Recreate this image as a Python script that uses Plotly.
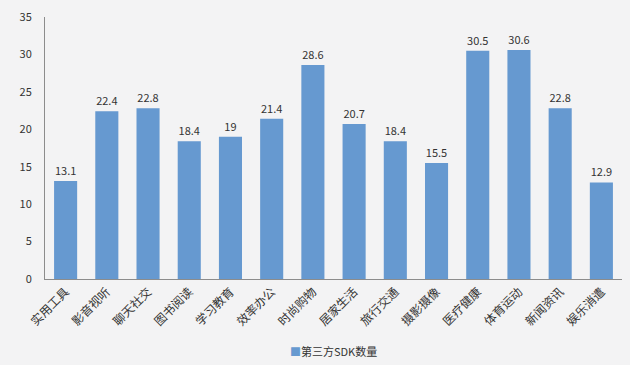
import plotly.graph_objects as go

categories = ["实用工具", "影音视听", "聊天社交", "图书阅读", "学习教育", "效率办公", "时尚购物",
              "居家生活", "旅行交通", "摄影摄像", "医疗健康", "体育运动", "新闻资讯", "娱乐消遣"]
values = [13.1, 22.4, 22.8, 18.4, 19, 21.4, 28.6, 20.7, 18.4, 15.5, 30.5, 30.6, 22.8, 12.9]
series_name = "第三方SDK数量"
y_ticks = [0, 5, 10, 15, 20, 25, 30, 35]

font_family = "Noto Sans CJK SC, Microsoft YaHei, sans-serif"
bar_color = "#6699D0"

fig = go.Figure()
fig.add_trace(go.Bar(
    x=categories, y=values, name=series_name,
    marker=dict(color=bar_color, line=dict(width=0)),
    text=[str(v) for v in values], textposition="outside",
    textfont=dict(size=11, color="#333333", family=font_family),
    cliponaxis=False, showlegend=False,
))

fig.add_annotation(
    xref="paper", yref="paper", x=0.5, y=-0.235, xanchor="center", yanchor="top",
    text=f"<span style='color:{bar_color}'>■</span>{series_name}",
    showarrow=False, font=dict(size=11, color="#333333", family=font_family),
)

fig.update_layout(
    width=630, height=365,
    margin=dict(l=45, r=8, t=8, b=86),
    paper_bgcolor="#f3f3f4", plot_bgcolor="rgba(0,0,0,0)",
    bargap=0.44,
    font=dict(family=font_family, color="#333333"),
)
fig.update_xaxes(
    tickangle=-45, tickfont=dict(size=12, color="#333333", family=font_family),
    showline=True, linecolor="#8c8c8c", linewidth=1, ticks="",
    showgrid=False,
)
fig.update_yaxes(
    range=[0, 35], tickmode="array", tickvals=y_ticks, ticktext=[str(t) for t in y_ticks],
    tickfont=dict(size=11, color="#333333", family=font_family),
    showline=True, linecolor="#8c8c8c", linewidth=1, showgrid=False, zeroline=False,
    ticks="", ticklabelstandoff=10, ticklabeloverflow="allow",
)

fig.write_html("out.html", config={"displayModeBar": False},
               post_script="document.body.style.margin='0';")
